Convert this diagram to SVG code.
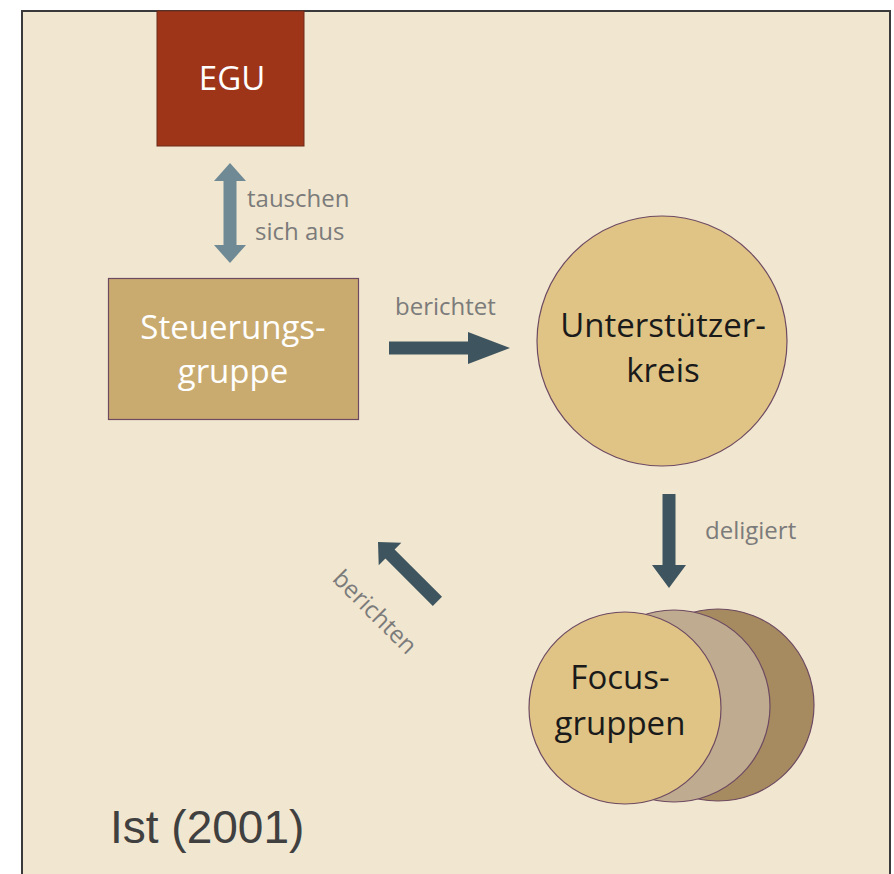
<svg xmlns="http://www.w3.org/2000/svg" width="894" height="874" viewBox="0 0 894 874">
<style>
.lbl{font-family:"Open Sans","Noto Sans",sans-serif;font-size:24px;fill:#7b7b7b}
.big{font-family:"Open Sans","Noto Sans",sans-serif;font-size:33px;text-anchor:middle}
.w{fill:#ffffff}
.k{fill:#1a1a1a}
.arr{fill:#3e5560}
.nodeline{stroke:#6e4a62;stroke-width:1.2}
</style>
<rect x="0" y="0" width="894" height="874" fill="#ffffff"/>
<rect id="panel" x="22" y="11" width="868" height="870" fill="#f1e6cf" stroke="#3a3a3a" stroke-width="2"/>

<g id="egu">
<rect x="157" y="11" width="147" height="135" fill="#9e3519" stroke="#6e2a1a" stroke-width="1"/>
<text class="big w" x="232" y="90">EGU</text>
</g>

<g id="steuerungsgruppe">
<rect x="108.5" y="278.5" width="250" height="141" fill="#c9ab70" class="nodeline"/>
<text class="big w" x="233" y="339">Steuerungs-</text>
<text class="big w" x="233" y="383">gruppe</text>
</g>

<g id="unterstuetzerkreis">
<circle cx="662" cy="341" r="125" fill="#dfc486" class="nodeline"/>
<text class="big k" x="663" y="337">Unterstützer-</text>
<text class="big k" x="663" y="382">kreis</text>
</g>

<g id="focusgruppen">
<circle cx="718" cy="705" r="96" fill="#a68b60" class="nodeline"/>
<circle cx="674" cy="706" r="96" fill="#bfab8f" class="nodeline"/>
<circle cx="625" cy="708" r="96" fill="#dfc486" class="nodeline"/>
<text class="big k" x="620" y="689">Focus-</text>
<text class="big k" x="620" y="735">gruppen</text>
</g>

<g id="connectors">
<polygon fill="#6f8a95" points="230,163 246,181 236.5,181 236.5,245 246,245 230,263 214,245 223.5,245 223.5,181 214,181"/>
<polygon class="arr" points="389,341.5 468,341.5 468,332 510,348 468,364 468,354.5 389,354.5"/>
<polygon class="arr" points="662.5,494 675.5,494 675.5,565 686,565 669,588 652,565 662.5,565"/>
<polygon class="arr" transform="translate(378,542) rotate(45)" points="0,0 17,-16 17,-6.5 84,-6.5 84,6.5 17,6.5 17,16"/>
</g>

<g id="labels">
<text class="lbl" x="247" y="207">tauschen</text>
<text class="lbl" x="255" y="240">sich aus</text>
<text class="lbl" x="395" y="315">berichtet</text>
<text class="lbl" x="705" y="539">deligiert</text>
<text class="lbl" text-anchor="middle" transform="translate(374,613) rotate(45)" x="0" y="7">berichten</text>
<text x="110" y="843" font-family="Liberation Sans,Arial,sans-serif" font-size="46" fill="#404040">Ist (2001)</text>
</g>
</svg>
